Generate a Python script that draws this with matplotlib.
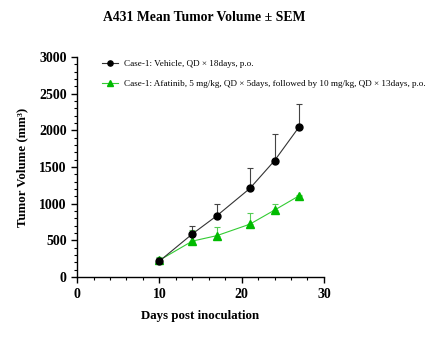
import numpy as np, matplotlib; matplotlib.use("Agg")
import matplotlib.pyplot as plt
from matplotlib.ticker import MultipleLocator
plt.rcParams.update({"font.family":["Liberation Serif","DejaVu Serif"],"axes.linewidth":1.0})

days=[10,14,17,21,24,27]
veh=[218,588,838,1209,1588,2050]
veh_err=[45,115,165,273,365,315]
afa=[230,491,566,722,914,1110]
afa_err=[40,150,120,150,90,15]
lab_veh="Case-1: Vehicle, QD × 18days, p.o."
lab_afa="Case-1: Afatinib, 5 mg/kg, QD × 5days, followed by 10 mg/kg, QD × 13days, p.o."

fig=plt.figure(figsize=(4.33,3.46),dpi=100)
ax=fig.add_axes([0.178,0.199,0.570,0.636])
ax.errorbar(days,veh,yerr=[np.zeros(len(veh)),veh_err],color='#333333',ecolor='#444444',lw=0.8,elinewidth=0.8,
            capsize=2.5,capthick=0.8,marker='o',ms=5,mfc='black',mec='black',label=lab_veh,zorder=4)
ax.errorbar(days,afa,yerr=[np.zeros(len(afa)),afa_err],color='#33cc33',ecolor='#55cc55',lw=0.8,elinewidth=0.8,
            capsize=2.5,capthick=0.8,marker='^',ms=5.5,mfc='#00bb00',mec='#00bb00',label=lab_afa,zorder=3)
ax.set_xlim(0,30); ax.set_ylim(0,3000)
ax.xaxis.set_major_locator(MultipleLocator(10)); ax.xaxis.set_minor_locator(MultipleLocator(2))
ax.yaxis.set_major_locator(MultipleLocator(500)); ax.yaxis.set_minor_locator(MultipleLocator(100))
ax.spines['top'].set_visible(False); ax.spines['right'].set_visible(False)
ax.tick_params(which='major',length=4,width=1.0,labelsize=10)
ax.tick_params(which='minor',length=2,width=0.8)
for t in ax.get_xticklabels()+ax.get_yticklabels(): t.set_fontweight('bold')
ax.set_xlabel("Days post inoculation",fontsize=9.3,fontweight='bold',labelpad=7)
ax.set_ylabel("Tumor Volume (mm³)",fontsize=9.3,fontweight='bold',labelpad=8)
fig.text(0.472,0.948,"A431 Mean Tumor Volume ± SEM",ha='center',va='center',fontsize=9.9,fontweight='bold')
h,l=ax.get_legend_handles_labels()
h=[x[0] for x in h]
leg=fig.legend(h,l,loc='upper left',bbox_to_anchor=(0.228,0.838),frameon=False,fontsize=6.55,
           handlelength=1.7,handletextpad=0.7,labelspacing=1.25,borderaxespad=0,markerscale=0.75)
fig.savefig("out.png",dpi=100)
